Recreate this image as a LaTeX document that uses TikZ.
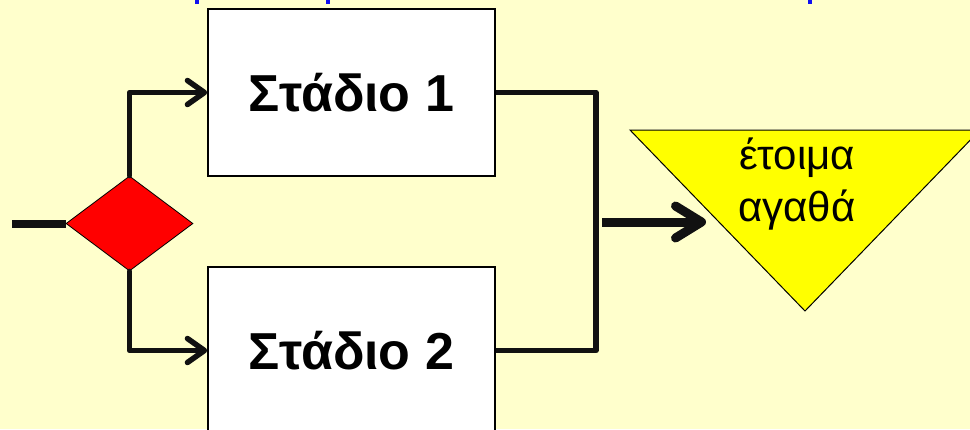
\documentclass[tikz,border=0pt]{standalone}
\usepackage{fontspec}
\setmainfont{Liberation Sans}
\usetikzlibrary{arrows.meta,shapes.geometric}
\definecolor{bg}{HTML}{FFFFCC}
\definecolor{ln}{HTML}{111111}
\definecolor{tri}{HTML}{FFFF00}
\definecolor{dia}{HTML}{FF0000}
\definecolor{ttl}{HTML}{1010F0}
\tikzset{
  stage/.style={draw=black, line width=1.6pt, fill=white, minimum width=287pt, minimum height=167pt, inner sep=0pt,
     font=\fontsize{52}{60}\selectfont\bfseries},
  conn/.style={draw=ln, line width=5.5pt, line cap=round, line join=round},
  barb/.style={-{Straight Barb[length=17pt, width=24pt, line cap=round, line join=round]}},
  bigbarb/.style={-{Straight Barb[length=26pt, width=32pt, line cap=round, line join=round]}}
}
\begin{document}
\begin{tikzpicture}[x=1pt,y=-1pt]
\fill[bg] (0,0) rectangle (970,429);
\useasboundingbox (0,0) rectangle (970,429);
% cut-off fragments of title line above
\fill[ttl] (195,0) rectangle (199,4);
\fill[ttl] (326,0) rectangle (330,4);
\fill[ttl] (808,0) rectangle (812,4);
% stages
\node[stage] (s1) at (351.5,92.5) {Στάδιο 1};
\node[stage] (s2) at (351.5,350.5) {Στάδιο 2};
% decision
\node[diamond, draw=black, line width=0.8pt, fill=dia, minimum width=127pt, minimum height=95pt, inner sep=0pt] (d) at (129.5,223.5) {};
% input
\coordinate (in) at (12,223.5);
\draw[draw=ln, line width=8pt] (in) -- (d.west);
% branches
\draw[conn, barb] (d.north) |- (s1.west);
\draw[conn, barb] (d.south) |- (s2.west);
% merge
\draw[conn, line cap=butt] (s1.east) -- (596,92.5) |- (s2.east);
% finished goods triangle
\coordinate (t1) at (630,130);
\coordinate (t2) at (980,130);
\coordinate (t3) at (805,311);
\draw[fill=tri, draw=black, line width=1pt, line join=miter] (t1) -- (t2) -- (t3) -- cycle;
\node[align=center, font=\fontsize{42}{52}\selectfont, inner sep=0pt] (g) at (797,184) {έτοιμα\\αγαθά};
\coordinate (m) at (602,222);
\coordinate (mt) at (706,222);
\draw[draw=ln, line width=9pt, line cap=butt, bigbarb] (m) -- (mt);
\end{tikzpicture}
\end{document}
